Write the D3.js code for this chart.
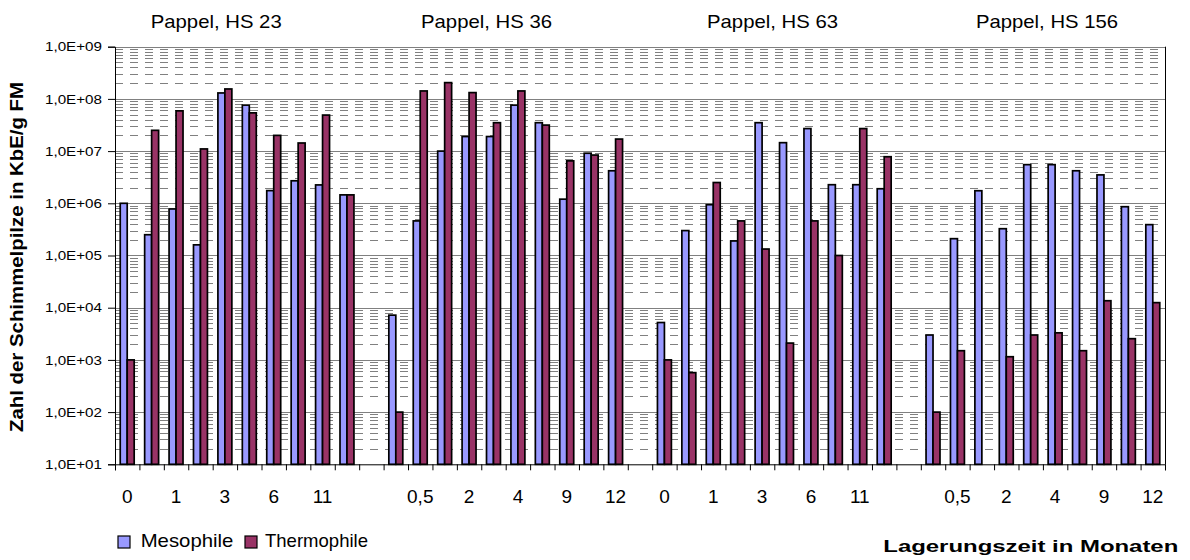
<!DOCTYPE html>
<html>
<head>
<meta charset="utf-8">
<script src="https://cdn.jsdelivr.net/npm/d3@7/dist/d3.min.js"></script>
<style>
  html, body { margin: 0; padding: 0; background: #fff; }
  svg { display: block; font-family: "Liberation Sans", Arial, sans-serif; }
</style>
</head>
<body>
<svg id="chart" width="1190" height="560"></svg>
<script>
// ---------- data ----------
const groupTitles = ["Pappel, HS 23", "Pappel, HS 36", "Pappel, HS 63", "Pappel, HS 156"];
const months = ["0", "0,5", "1", "2", "3", "4", "6", "9", "11", "12"];
const seriesNames = ["Mesophile", "Thermophile"];

const meso1   = [1.0e6, 2.5e5, 7.8e5, 1.6e5, 1.3e8, 7.6e7, 1.75e6, 2.7e6, 2.25e6, 1.45e6];
const thermo1 = [1.0e3, 2.5e7, 5.9e7, 1.1e7, 1.55e8, 5.4e7, 2.0e7, 1.43e7, 4.9e7, 1.45e6];
const meso2   = [7.2e3, 4.6e5, 1.0e7, 1.9e7, 1.9e7, 7.6e7, 3.5e7, 1.2e6, 9.1e6, 4.2e6];
const thermo2 = [1.0e2, 1.42e8, 2.05e8, 1.32e8, 3.5e7, 1.42e8, 3.15e7, 6.5e6, 8.4e6, 1.7e7];
const meso3   = [5.2e3, 3.0e5, 9.4e5, 1.9e5, 3.5e7, 1.45e7, 2.7e7, 2.27e6, 2.27e6, 1.9e6];
const thermo3 = [1.0e3, 5.7e2, 2.5e6, 4.6e5, 1.33e5, 2.1e3, 4.6e5, 1.0e5, 2.7e7, 7.8e6];
const meso4   = [3.0e3, 2.1e5, 1.74e6, 3.26e5, 5.5e6, 5.5e6, 4.2e6, 3.5e6, 8.6e5, 3.9e5];
const thermo4 = [1.0e2, 1.5e3, null, 1.15e3, 3.0e3, 3.3e3, 1.5e3, 1.36e4, 2.55e3, 1.25e4];

const yTickValues = [1e1, 1e2, 1e3, 1e4, 1e5, 1e6, 1e7, 1e8, 1e9];
const yTickLabels = ["1,0E+01", "1,0E+02", "1,0E+03", "1,0E+04", "1,0E+05", "1,0E+06", "1,0E+07", "1,0E+08", "1,0E+09"];

const yTitle = "Zahl der Schimmelpilze in KbE/g FM";
const xTitle = "Lagerungszeit in Monaten";

// ---------- build category table (groups separated by a blank category) ----------
const mesoGroups = [meso1, meso2, meso3, meso4];
const thermoGroups = [thermo1, thermo2, thermo3, thermo4];
const cats = [];
groupTitles.forEach((g, gi) => {
  if (gi > 0) cats.push({ label: "", meso: null, thermo: null, group: -1 });
  months.forEach((m, mi) => cats.push({ label: m, meso: mesoGroups[gi][mi], thermo: thermoGroups[gi][mi], group: gi }));
});

// ---------- layout ----------
const L = 115, R = 1165, T = 46.7, B = 464.3;
const colors = { Mesophile: "#9999FF", Thermophile: "#993366" };
const font = '"Liberation Sans", Arial, sans-serif';

const svg = d3.select("#chart");
svg.append("rect").attr("width", 1190).attr("height", 560).attr("fill", "#fff");

const y = d3.scaleLog().domain([10, 1e9]).range([B, T]);
const x = d3.scaleBand().domain(d3.range(cats.length)).range([L, R]).padding(0);
const xs = d3.scaleBand().domain(seriesNames).range([0, x.bandwidth()]).paddingInner(0).paddingOuter(0.75);
const xLin = d3.scaleLinear().domain([0, cats.length]).range([L, R]);

// minor gridlines (dashed)
const minor = [];
for (let e = 1; e < 9; e++) for (let k = 2; k <= 9; k++) minor.push(k * Math.pow(10, e));
svg.append("g").selectAll("line").data(minor).join("line")
  .attr("x1", L).attr("x2", R)
  .attr("y1", d => Math.round(y(d)) + 0.5).attr("y2", d => Math.round(y(d)) + 0.5)
  .attr("stroke", "#808080").attr("stroke-width", 1).attr("stroke-dasharray", "8,7");

// major gridlines
svg.append("g").selectAll("line").data(yTickValues.slice(1)).join("line")
  .attr("x1", L).attr("x2", R)
  .attr("y1", d => Math.round(y(d)) + 0.5).attr("y2", d => Math.round(y(d)) + 0.5)
  .attr("stroke", "#808080").attr("stroke-width", 1);

// right border
svg.append("line").attr("x1", R + 0.5).attr("x2", R + 0.5).attr("y1", T).attr("y2", B)
  .attr("stroke", "#000").attr("stroke-width", 1);

// bars
const barData = [];
cats.forEach((c, i) => {
  if (c.meso != null) barData.push({ i, s: "Mesophile", v: c.meso });
  if (c.thermo != null) barData.push({ i, s: "Thermophile", v: c.thermo });
});
svg.append("g").selectAll("rect").data(barData).join("rect")
  .attr("x", d => x(d.i) + xs(d.s))
  .attr("width", xs.bandwidth())
  .attr("y", d => y(d.v))
  .attr("height", d => B - y(d.v))
  .attr("fill", d => colors[d.s])
  .attr("stroke", "#000").attr("stroke-width", 1.7);

// y axis
const yAxis = svg.append("g").attr("transform", `translate(${L},0)`)
  .call(d3.axisLeft(y).tickValues(yTickValues)
    .tickFormat((d, i) => yTickLabels[i]).tickSize(7).tickPadding(6));
yAxis.select(".domain").attr("stroke", "#000");
yAxis.selectAll(".tick line").attr("stroke", "#000");
yAxis.selectAll(".tick text").attr("font-family", font).attr("font-size", 13).attr("fill", "#000")
  .attr("textLength", 57).attr("lengthAdjust", "spacingAndGlyphs");

// x axis: boundary ticks
const xTicks = svg.append("g").attr("transform", `translate(0,${B})`)
  .call(d3.axisBottom(xLin).tickValues(d3.range(cats.length + 1)).tickFormat("").tickSize(6));
xTicks.select(".domain").attr("stroke", "#000");
xTicks.selectAll(".tick line").attr("stroke", "#000");

// x axis labels (every second category, as in the original)
const xLab = svg.append("g").attr("transform", `translate(0,${B})`)
  .call(d3.axisBottom(x).tickSize(0).tickPadding(25.5)
    .tickFormat(i => (i % 2 === 0 ? cats[i].label : "")));
xLab.select(".domain").remove();
xLab.selectAll(".tick text").attr("font-family", font).attr("font-size", 19).attr("fill", "#000");

// group titles
const titlePos = [150.7, 421, 707, 976];
const titleLen = [131, 131, 131, 142];
svg.append("g").selectAll("text").data(groupTitles).join("text")
  .attr("x", (d, i) => titlePos[i]).attr("y", 27.7)
  .attr("font-family", font).attr("font-size", 18.6).attr("fill", "#000")
  .attr("textLength", (d, i) => titleLen[i]).attr("lengthAdjust", "spacingAndGlyphs")
  .text(d => d);

// y title
svg.append("text")
  .attr("transform", "translate(23,257) rotate(-90)")
  .attr("text-anchor", "middle")
  .attr("font-family", font).attr("font-size", 18).attr("font-weight", "bold").attr("fill", "#000")
  .attr("textLength", 350).attr("lengthAdjust", "spacingAndGlyphs")
  .text(yTitle);

// x title
svg.append("text")
  .attr("x", 883.3).attr("y", 552.3)
  .attr("font-family", font).attr("font-size", 17).attr("font-weight", "bold").attr("fill", "#000")
  .attr("textLength", 295).attr("lengthAdjust", "spacingAndGlyphs")
  .text(xTitle);

// legend
const legX = [118, 245], legTX = [140.7, 265], legTL = [92.7, 103];
const leg = svg.append("g").selectAll("g").data(seriesNames).join("g");
leg.append("rect")
  .attr("x", (d, i) => legX[i]).attr("y", 536).attr("width", 12).attr("height", 12)
  .attr("fill", d => colors[d]).attr("stroke", "#000").attr("stroke-width", 1.2);
leg.append("text")
  .attr("x", (d, i) => legTX[i]).attr("y", 547)
  .attr("font-family", font).attr("font-size", 18.6).attr("fill", "#000")
  .attr("textLength", (d, i) => legTL[i]).attr("lengthAdjust", "spacingAndGlyphs")
  .text(d => d);
</script>
</body>
</html>
